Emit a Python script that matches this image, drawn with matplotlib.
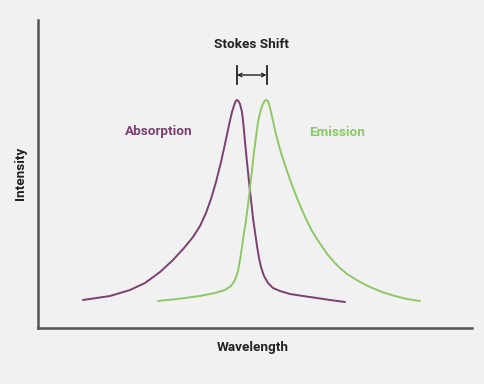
import matplotlib.pyplot as plt
import numpy as np

plt.rcParams['font.family'] = ['Roboto', 'DejaVu Sans']

# curves (arbitrary units: wavelength along x, intensity up)
abs_px = [83, 110, 130, 145, 160, 173, 184, 193, 200, 206, 211, 216, 221, 225, 229, 232, 234.5,
          235.8, 237, 238.3, 240, 242, 243.5, 245, 247, 249, 251, 253, 255, 257, 259, 261,
          264, 268, 273, 280, 290, 303, 317, 330, 345]
abs_py = [300, 296, 290, 283, 272, 260, 248, 237, 226, 213, 199, 182, 162, 144, 125, 112, 104,
          101, 100, 101, 104, 112, 125, 142, 162, 182, 200, 218, 232, 246, 258, 267,
          276, 283, 288, 291, 294, 296, 298, 300, 302]

em_px = [158, 177, 200, 215, 225, 231, 235, 238, 240, 242, 244, 246, 248, 250, 252, 254,
         256, 258, 260, 262, 264, 265.2, 266.5, 267.8, 269, 271, 273, 275, 278, 282, 287,
         292, 297, 302, 307, 312, 317, 323, 328, 334, 340, 347, 355, 362, 370, 382, 395,
         407, 420]
em_py = [301, 299, 296, 293, 290, 286, 280, 271, 260, 247, 233, 220, 205, 188, 170, 152,
         137, 122, 113, 106, 102, 100.5, 100, 100.8, 104, 112, 121, 130, 142, 156, 171,
         185, 198, 210, 221, 231, 239, 248, 255, 262, 268, 274, 279, 283, 287, 292, 296,
         299, 301]

abs_x = np.array(abs_px) - 38
abs_y = 328 - np.array(abs_py)
em_x = np.array(em_px) - 38
em_y = 328 - np.array(em_py)

abs_peak = abs_x[np.argmax(abs_y)]
em_peak = em_x[np.argmax(em_y)]

purple = '#7b3f72'
green = '#8dc866'
bg = '#f1f1f1'
fs = 9.7

fig = plt.figure(figsize=(4.84, 3.84), dpi=100, facecolor=bg)
ax = fig.add_axes([38/484, 56/384, 434/484, 308/384], facecolor=bg)
ax.set_xlim(0, 434)
ax.set_ylim(0, 308)

ax.plot(abs_x, abs_y, color=purple, lw=1.4, solid_joinstyle='round', solid_capstyle='round')
ax.plot(em_x, em_y, color=green, lw=1.4, solid_joinstyle='round', solid_capstyle='round')

for s in ['top', 'right']:
    ax.spines[s].set_visible(False)
for s in ['left', 'bottom']:
    ax.spines[s].set_color('#555555')
    ax.spines[s].set_linewidth(1.8)
ax.set_xticks([])
ax.set_yticks([])

# stokes shift marker
ax.plot([abs_peak, abs_peak], [244, 262], color='#222222', lw=1.3)
ax.plot([em_peak, em_peak], [244, 262], color='#222222', lw=1.3)
ax.annotate('', xy=(abs_peak, 253), xytext=(em_peak, 253),
            arrowprops=dict(arrowstyle='<->', color='#222222', lw=1, shrinkA=0, shrinkB=0,
                            mutation_scale=6))
ax.text((abs_peak + em_peak) / 2, 283, 'Stokes Shift', ha='center', va='center',
        fontsize=fs, fontweight='bold', color='#222222')

ax.text(121, 196, 'Absorption', ha='center', va='center', fontsize=fs, fontweight='bold', color=purple)
ax.text(299, 196, 'Emission', ha='center', va='center', fontsize=fs, fontweight='bold', color=green)

fig.text(253/484, 1 - 348/384, 'Wavelength', ha='center', va='center', fontsize=fs,
         fontweight='bold', color='#222222')
fig.text(20/484, 1 - 173/384, 'Intensity', ha='center', va='center', fontsize=fs,
         fontweight='bold', color='#222222', rotation=90)

fig.savefig('out.png', dpi=100, facecolor=bg)
